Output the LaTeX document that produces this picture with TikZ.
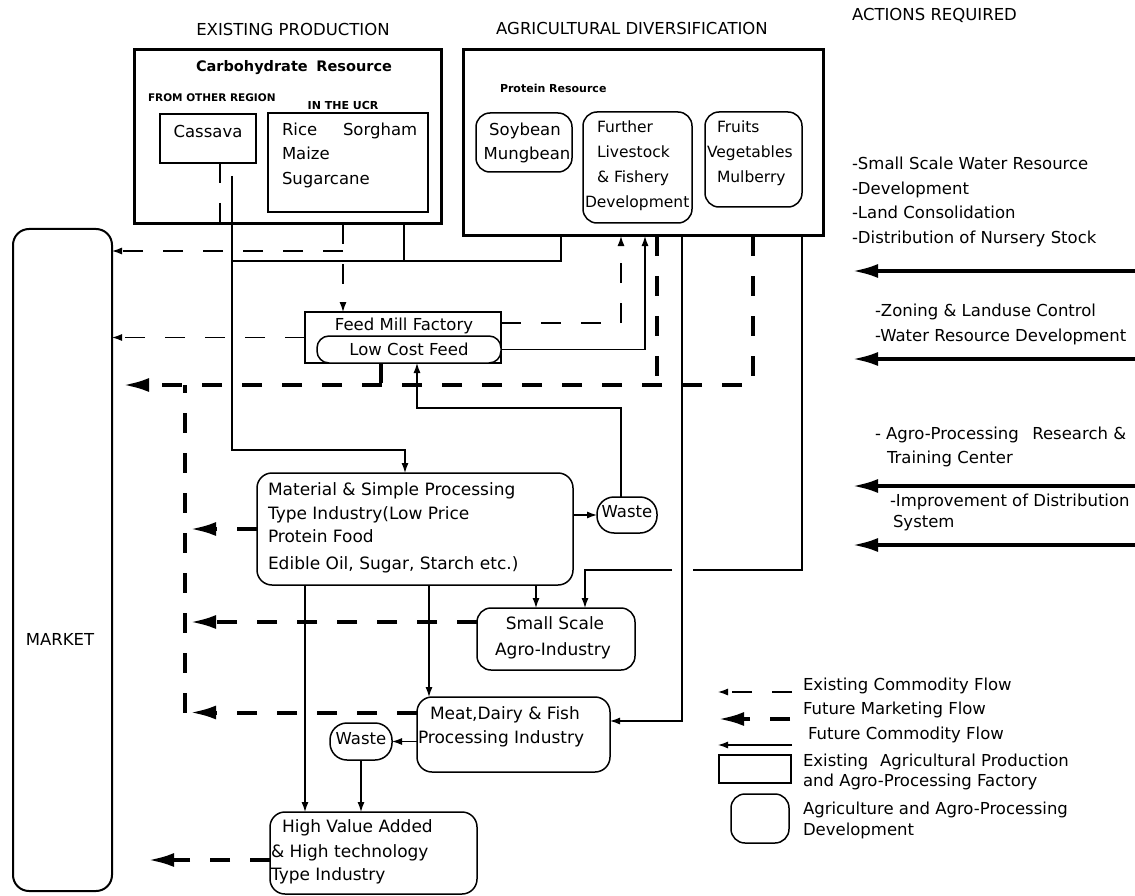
\documentclass[tikz,border=0pt]{standalone}
\usepackage{fontspec}
\setmainfont{DejaVu Sans}
\usetikzlibrary{arrows.meta}
\newcommand\setfs[1]{\fontsize{#1}{#1}\selectfont}

\begin{document}
\begin{tikzpicture}[x=1pt,y=-1pt,
  every node/.style={inner sep=0pt, outer sep=0pt},
  sqbox/.style={draw, line width=1.5pt, anchor=north west},
  rbox/.style={draw, line width=1.5pt, rounded corners=14pt, anchor=north west},
  bigbox/.style={draw, line width=3pt, anchor=north west},
  title/.style={anchor=mid, font=\setfs{16.5}},
  lbl/.style={anchor=mid west, font=\setfs{16.5}},
  clbl/.style={anchor=mid, font=\setfs{16.5}},
  lbb/.style={anchor=mid west, font=\setfs{17}},
  clbb/.style={anchor=mid, font=\setfs{17}},
  ecl/.style={line width=1.2pt, dash pattern=on 20pt off 20pt},
  ecf/.style={ecl, -{Latex[length=10pt,width=7pt]}},
  fcl/.style={line width=1.2pt},
  fcf/.style={fcl, -{Latex[length=10pt,width=7pt]}},
  fml/.style={line width=4pt, dash pattern=on 20pt off 20pt},
  fmf/.style={fml, -{Latex[length=26pt,width=14pt]}},
  act/.style={line width=4pt, -{Latex[length=26pt,width=14pt]}}
]
\useasboundingbox (0,0) rectangle (1135,896);

% ---------- column titles ----------
\node[title] (tex) at (293,33) {EXISTING PRODUCTION};
\node[title] (tag) at (632,32) {AGRICULTURAL DIVERSIFICATION};
\node[title, anchor=mid west] (tac) at (852,18) {ACTIONS REQUIRED};

% ---------- existing production ----------
\node[bigbox, minimum width=307pt, minimum height=174pt] (ex) at (134,50) {};
\node[anchor=mid, font=\bfseries\setfs{14.5}] (tcr) at (294,69) {Carbohydrate\hspace{0.6em}Resource};
\node[anchor=mid west, font=\bfseries\setfs{10.5}] (tfo) at (148,99) {FROM OTHER REGION};
\node[anchor=mid, font=\bfseries\setfs{11}] (tiu) at (343,107) {IN THE UCR};
\node[sqbox, minimum width=96pt, minimum height=49pt] (cas) at (160,114) {};
\node[clbl] (tcas) at (208,135) {Cassava};
\node[sqbox, minimum width=160pt, minimum height=99pt] (ucr) at (268,113) {};
\node[lbl] (trice) at (282,133) {Rice};
\node[lbl] (tsor) at (343,133) {Sorgham};
\node[lbl] (tmai) at (282,157) {Maize};
\node[lbl] (tsug) at (282,182) {Sugarcane};

% ---------- agricultural diversification ----------
\node[bigbox, minimum width=360pt, minimum height=186pt] (agri) at (463,50) {};
\node[anchor=mid west, font=\bfseries\setfs{11}] (tpr) at (500,90) {Protein Resource};
\node[rbox, minimum width=96pt, minimum height=59pt] (soy) at (476,113) {};
\node[clbl] (tsoy) at (525,133) {Soybean};
\node[clbl] (tmun) at (527,157) {Mungbean};
\node[rbox, minimum width=109pt, minimum height=111pt] (fur) at (583,112) {};
\node[lbl, font=\setfs{15.5}] (tfu1) at (597,130) {Further};
\node[lbl, font=\setfs{15.5}] (tfu2) at (597,155) {Livestock};
\node[lbl, font=\setfs{15.5}] (tfu3) at (597,180) {\& Fishery};
\node[lbl, font=\setfs{15.5}] (tfu4) at (585,205) {Development};
\node[rbox, minimum width=97pt, minimum height=95pt] (fru) at (705,112) {};
\node[lbl, font=\setfs{15.5}] (tfr1) at (717,130) {Fruits};
\node[lbl, font=\setfs{15.5}] (tfr2) at (707,155) {Vegetables};
\node[lbl, font=\setfs{15.5}] (tfr3) at (717,180) {Mulberry};

% ---------- market ----------
\node[rbox, rounded corners=16pt, line width=2pt, minimum width=99pt, minimum height=662pt] (mkt) at (13,229) {};
\node[clbl] (tmkt) at (60,643) {MARKET};

% ---------- feed mill ----------
\node[sqbox, minimum width=196pt, minimum height=51pt] (fm) at (305,312) {};
\node[clbl] (tfm) at (404,328) {Feed Mill Factory};
\node[rbox, rounded corners=12pt, fill=white, minimum width=184pt, minimum height=27pt] (lcf) at (317,336) {};
\node[clbl] (tlcf) at (409,353) {Low Cost Feed};

% ---------- processing chain ----------
\node[rbox, rounded corners=15pt, minimum width=316pt, minimum height=112pt] (mat) at (257,473) {};
\node[lbb] (tm1) at (268,493) {Material \& Simple Processing};
\node[lbb] (tm2) at (268,517) {Type Industry(Low Price};
\node[lbb] (tm3) at (268,540) {Protein Food};
\node[lbb] (tm4) at (268,567) {Edible Oil, Sugar, Starch etc.)};

\node[rbox, rounded corners=17pt, minimum width=60pt, minimum height=36pt] (w1) at (597,497) {};
\node[clbl] (tw1) at (627,515) {Waste};

\node[rbox, minimum width=158pt, minimum height=62pt] (small) at (477,608) {};
\node[clbb] (ts1) at (555,627) {Small Scale};
\node[clbb] (ts2) at (553,653) {Agro-Industry};

\node[rbox, rounded corners=15pt, minimum width=193pt, minimum height=75pt] (meat) at (417,697) {};
\node[lbb] (tme1) at (430,717) {Meat,Dairy \& Fish};
\node[lbb] (tme2) at (418,741) {Processing Industry};

\node[rbox, rounded corners=17pt, minimum width=62pt, minimum height=37pt] (w2) at (330,723) {};
\node[clbl] (tw2) at (361,742) {Waste};

\node[rbox, rounded corners=15pt, minimum width=207pt, minimum height=82pt] (hv) at (270,812) {};
\node[lbb] (th1) at (282,830) {High Value Added};
\node[lbb] (th2) at (271,855) {\& High technology};
\node[lbb] (th3) at (271,878) {Type Industry};

% ---------- actions required ----------
\node[lbl] (ta1) at (852,167) {-Small Scale Water Resource};
\node[lbl] (ta2) at (852,192) {-Development};
\node[lbl] (ta3) at (852,216) {-Land Consolidation};
\node[lbl] (ta4) at (852,241) {-Distribution of Nursery Stock};
\node[lbl] (ta5) at (875,314) {-Zoning \& Landuse Control};
\node[lbl] (ta6) at (875,339) {-Water Resource Development};
\node[lbl] (ta7) at (875,437) {- Agro-Processing\hspace{0.5em} Research \&};
\node[lbl] (ta8) at (887,461) {Training Center};
\node[lbl] (ta9) at (890,504) {-Improvement of Distribution};
\node[lbl] (ta10) at (893,525) {System};

\coordinate (a1s) at (1137,271); \coordinate (a1e) at (852,271);
\coordinate (a2s) at (1137,359); \coordinate (a2e) at (852,359);
\coordinate (a3s) at (1137,486); \coordinate (a3e) at (852,486);
\coordinate (a4s) at (1137,545); \coordinate (a4e) at (852,545);
\draw[act] (a1s) -- (a1e);
\draw[act] (a2s) -- (a2e);
\draw[act] (a3s) -- (a3e);
\draw[act] (a4s) -- (a4e);

% ---------- junction coordinates ----------
\coordinate (xa) at (220,0);
\coordinate (s0) at (232,176);
\coordinate (k1) at (232,450);
\coordinate (k2) at (405,450);
\coordinate (h1) at (232,261);
\coordinate (xb) at (404,0);
\coordinate (xc) at (561,0);
\coordinate (xd) at (343,0);
\coordinate (b1) at (343,251);
\coordinate (xe) at (621,0);
\coordinate (ya) at (0,323);
\coordinate (xf) at (645,0);
\coordinate (t1) at (753,385);
\coordinate (t2) at (657,385);
\coordinate (mk) at (123,385);
\coordinate (xg) at (381,0);
\coordinate (u1) at (417,408);
\coordinate (xh) at (682,0);
\coordinate (v1) at (682,721);
\coordinate (xi) at (802,0);
\coordinate (g1) at (672,570);
\coordinate (g2) at (693,570);
\coordinate (xj) at (585,0);
\coordinate (xk) at (536,0);
\coordinate (xl) at (305,0);
\coordinate (xm) at (429,0);
\coordinate (xn) at (190,0);
\coordinate (xo) at (185,0);
\coordinate (xp) at (148,0);
\coordinate (sm1) at ([yshift=17pt]small.west);
\coordinate (me1) at ([yshift=22pt]meat.west);
\coordinate (hv1) at ([yshift=-7pt]hv.west);

% ---------- existing commodity flows ----------
\draw[ecl] (cas.south -| xa) -- (ex.south -| xa);
\draw[ecf] (ex.south -| xd) -- (fm.north -| xd);
\draw[ecf] (b1) -- (b1 -| mkt.east);
\draw[ecf] (fm.west) -- (fm.west -| mkt.east);
\draw[ecf] (fm.east |- ya) -| (agri.south -| xe);

% ---------- future commodity flows ----------
\draw[fcl] (ex.south -| xb) |- (h1);
\draw[fcl] (agri.south -| xc) |- (h1);
\draw[fcf] (s0) -- (k1) -- (k2) -- (k2 |- mat.north);
\draw[fcf] (lcf.east) -| (agri.south -| xf);
\draw[fcf] (w1.north -| xe) |- (u1) -- (u1 |- lcf.south);
\draw[fcf] (w1.west -| mat.east) -- (w1.west);
\draw[fcf] (agri.south -| xh) -- (v1) -- (v1 -| meat.east);
\draw[fcl] (agri.south -| xi) |- (g2);
\draw[fcf] (g1) -| (small.north -| xj);
\draw[fcf] (mat.south -| xk) -- (small.north -| xk);
\draw[fcf] (mat.south -| xl) -- (hv.north -| xl);
\draw[fcf] (mat.south -| xm) -- (meat.north -| xm);
\draw[fcf] (w2.east -| meat.west) -- (w2.east);
\draw[fcf] (w2.south) -- (w2.south |- hv.north);

% ---------- future marketing flows ----------
\draw[fmf] (agri.south -| t1) -- (t1) -- (mk);
\draw[fml] (agri.south -| t2) -- (t2);
\draw[fml] (lcf.south -| xg) -- (xg |- t1);
\draw[fml] (me1 -| xo) -- (t1 -| xo);
\draw[fmf] (mat.west) -- (mat.west -| xn);
\draw[fmf] (sm1) -- (sm1 -| xn);
\draw[fmf] (me1) -- (me1 -| xn);
\draw[fmf] (hv1) -- (hv1 -| xp);

% ---------- legend ----------
\coordinate (l1a) at (792,692); \coordinate (l1b) at (718,692);
\coordinate (l2a) at (790,719); \coordinate (l2b) at (718,719);
\coordinate (l3a) at (792,745); \coordinate (l3b) at (718,745);
\draw[ecf] (l1a) -- (l1b);
\draw[fmf] (l2a) -- (l2b);
\draw[fcf] (l3a) -- (l3b);
\node[sqbox, minimum width=72pt, minimum height=28pt] (lg4) at (719,755) {};
\node[rbox, minimum width=58pt, minimum height=49pt] (lg5) at (731,794) {};
\node[lbl] (tl1) at (803,688) {Existing Commodity Flow};
\node[lbl] (tl2) at (803,712) {Future Marketing Flow};
\node[lbl] (tl3) at (808,737) {Future Commodity Flow};
\node[lbl] (tl4) at (803,764) {Existing\hspace{0.4em} Agricultural Production};
\node[lbl] (tl5) at (803,784) {and Agro-Processing Factory};
\node[lbl] (tl6) at (803,812) {Agriculture and Agro-Processing};
\node[lbl] (tl7) at (803,833) {Development};
\end{tikzpicture}
\end{document}
